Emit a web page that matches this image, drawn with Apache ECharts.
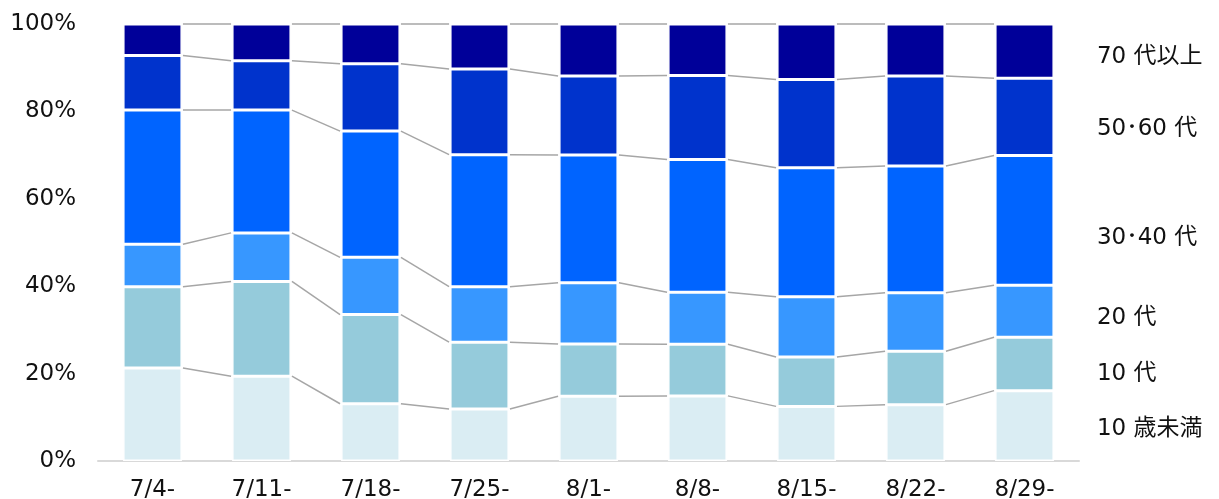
<!DOCTYPE html>
<html>
<head>
<meta charset="utf-8">
<script src="https://cdn.jsdelivr.net/npm/echarts@6/dist/echarts.min.js"></script>
<style>
  html, body { margin: 0; padding: 0; background: #fff; }
  #chart { width: 1219px; height: 499px; }
</style>
</head>
<body>
<div id="chart"></div>
<script>
// 週ごとの年代別構成比 (%)
const weeks = ['7/4-', '7/11-', '7/18-', '7/25-', '8/1-', '8/8-', '8/15-', '8/22-', '8/29-'];
const seriesNames = ['10 歳未満', '10 代', '20 代', '30･40 代', '50･60 代', '70 代以上'];
const under10 = [21.3, 19.4, 13.1, 11.9, 14.8, 14.9, 12.5, 12.9, 16.1];
const teens = [18.6, 21.7, 20.4, 15.3, 12.0, 11.8, 11.3, 12.2, 12.2];
const twenties = [9.7, 11.1, 13.1, 12.7, 14.0, 11.9, 13.8, 13.4, 11.9];
const age3040 = [30.7, 28.1, 28.9, 30.2, 29.2, 30.4, 29.5, 29.0, 29.7];
const age5060 = [12.5, 11.3, 15.4, 19.6, 18.1, 19.2, 20.2, 20.6, 17.7];
const over70 = [7.2, 8.4, 9.1, 10.3, 11.9, 11.8, 12.7, 11.9, 12.4];
const yTicks = [0, 20, 40, 60, 80, 100];

const allData = [under10, teens, twenties, age3040, age5060, over70];
const colors = ['#DAEDF3', '#95CBDB', '#3797FF', '#0064FF', '#0033CC', '#000099'];
// 凡例ラベルの縦方向の微調整
const labelOffsets = [3, 10, 7, 18, 12, 6];
const font = '"DejaVu Sans", "Noto Sans CJK JP", sans-serif';
const barRatio = 0.54;

const myChart = echarts.init(document.getElementById('chart'));

const barSeries = allData.map((d, k) => ({
  name: seriesNames[k],
  type: 'bar',
  stack: 'total',
  barWidth: (barRatio * 100) + '%',
  itemStyle: { color: colors[k], borderColor: '#fff', borderWidth: 1.5 },
  label: { show: false },
  data: d.map((v, i) => {
    if (i !== d.length - 1) return v;
    return {
      value: v,
      label: {
        show: true,
        position: 'right',
        distance: 43,
        offset: [0, labelOffsets[k]],
        formatter: seriesNames[k],
        fontFamily: font,
        fontSize: 23,
        color: '#111'
      }
    };
  })
}));

// 区分線 (隣り合う棒の境目を結ぶ線)
const linkSeries = {
  type: 'custom',
  silent: true,
  z: 1,
  data: weeks.slice(0, -1).map((w, i) => i),
  renderItem: function (params, api) {
    const i = api.value(0);
    const half = api.size([1, 0])[0] * barRatio / 2;
    const children = [];
    let cumA = 0, cumB = 0;
    for (let k = 0; k < allData.length; k++) {
      cumA += allData[k][i];
      cumB += allData[k][i + 1];
      const p1 = api.coord([i, cumA]);
      const p2 = api.coord([i + 1, cumB]);
      children.push({
        type: 'line',
        shape: { x1: p1[0] + half + 1, y1: p1[1], x2: p2[0] - half - 1, y2: p2[1] },
        style: { stroke: '#A6A6A6', lineWidth: 1.5 }
      });
    }
    return { type: 'group', children: children };
  }
};

const option = {
  animation: false,
  grid: { left: 98, right: 140, top: 24, bottom: 38, outerBoundsMode: 'none' },
  xAxis: {
    type: 'category',
    data: weeks,
    axisTick: { show: false },
    axisLine: { lineStyle: { color: '#D9D9D9', width: 2 } },
    axisLabel: { fontFamily: font, fontSize: 23, color: '#111', margin: 18 }
  },
  yAxis: {
    type: 'value',
    min: yTicks[0],
    max: yTicks[yTicks.length - 1],
    interval: 20,
    splitLine: { show: false },
    axisLabel: { formatter: '{value}%', fontFamily: font, fontSize: 23, color: '#111', margin: 22 }
  },
  series: [...barSeries, linkSeries]
};

myChart.setOption(option);
</script>
</body>
</html>
